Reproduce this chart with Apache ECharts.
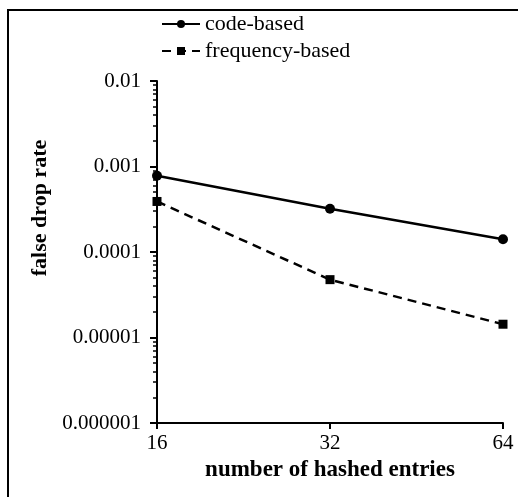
<!DOCTYPE html>
<html>
<head>
<meta charset="utf-8">
<script src="https://cdn.jsdelivr.net/npm/echarts@6/dist/echarts.min.js"></script>
<style>
  html, body { margin: 0; padding: 0; background: #fff; }
  #chart { width: 518px; height: 497px; }
</style>
</head>
<body>
<div id="chart"></div>
<script>
// number of hashed entries
var xValues = [16, 32, 64]
// false drop rate
var codeBased = [0.00078, 0.00032, 0.000141]
var frequencyBased = [0.00039, 0.0000475, 0.0000143]
// y axis decades
var yTicks = [0.000001, 0.00001, 0.0001, 0.001, 0.01]
var yTickLabels = ['0.000001', '0.00001', '0.0001', '0.001', '0.01']

var font = 'Liberation Serif'

// minor ticks 2..9 in every decade
var minorTicks = []
for (var i = 0; i < yTicks.length - 1; i++) {
  for (var k = 2; k <= 9; k++) {
    minorTicks.push(+(yTicks[i] * k).toPrecision(3))
  }
}

function pairs(ys) {
  var out = []
  for (var i = 0; i < xValues.length; i++) {
    out.push([xValues[i], ys[i]])
  }
  return out
}

var chart = echarts.init(document.getElementById('chart'))
chart.setOption({
  animation: false,
  backgroundColor: '#fff',
  grid: { left: 157, right: 15, top: 81, bottom: 74 },
  legend: {
    orient: 'vertical',
    left: 156,
    top: 8,
    itemWidth: 38,
    itemHeight: 10,
    itemGap: 5,
    textStyle: { fontFamily: font, fontSize: 22, color: '#000' },
    data: ['code-based', 'frequency-based']
  },
  xAxis: {
    type: 'log',
    logBase: 2,
    min: 16,
    max: 64,
    name: 'number of hashed entries',
    nameLocation: 'middle',
    nameGap: 34,
    nameTextStyle: { fontFamily: font, fontSize: 23, fontWeight: 'bold', color: '#000' },
    axisLine: { lineStyle: { color: '#000', width: 2 } },
    axisTick: { show: true, inside: false, length: 6, lineStyle: { color: '#000', width: 2 } },
    axisLabel: {
      fontFamily: font, fontSize: 21, color: '#000', margin: 10,
      customValues: xValues
    },
    splitLine: { show: false }
  },
  yAxis: [
    {
      type: 'log',
      logBase: 10,
      min: yTicks[0],
      max: yTicks[yTicks.length - 1],
      axisLine: { show: true, lineStyle: { color: '#000', width: 2 } },
      axisTick: { show: true, length: 7, lineStyle: { color: '#000', width: 2 }, customValues: yTicks },
      axisLabel: {
        fontFamily: font, fontSize: 21, color: '#000', margin: 16,
        customValues: yTicks,
        formatter: function (v) {
          var idx = yTicks.findIndex(function (t) { return Math.abs(t - v) / t < 1e-6 })
          return idx >= 0 ? yTickLabels[idx] : ''
        }
      },
      splitLine: { show: false }
    },
    {
      type: 'log',
      logBase: 10,
      position: 'left',
      min: yTicks[0],
      max: yTicks[yTicks.length - 1],
      axisLine: { show: false },
      axisTick: { show: true, length: 4, lineStyle: { color: '#000', width: 1.5 }, customValues: minorTicks },
      axisLabel: { show: false },
      splitLine: { show: false }
    }
  ],
  graphic: [
    {
      type: 'line',
      shape: { x1: 7, y1: 10, x2: 518, y2: 10 },
      style: { stroke: '#000', lineWidth: 2 }
    },
    {
      type: 'line',
      shape: { x1: 8, y1: 9, x2: 8, y2: 497 },
      style: { stroke: '#000', lineWidth: 2 }
    },
    {
      type: 'text',
      x: 40,
      y: 208,
      rotation: Math.PI / 2,
      style: {
        text: 'false drop rate',
        font: 'bold 22px "Liberation Serif"',
        fill: '#000',
        align: 'center',
        verticalAlign: 'middle'
      }
    }
  ],
  series: [
    {
      name: 'code-based',
      type: 'line',
      data: pairs(codeBased),
      symbol: 'circle',
      symbolSize: 10,
      itemStyle: { color: '#000' },
      lineStyle: { color: '#000', width: 2.5 }
    },
    {
      name: 'frequency-based',
      type: 'line',
      data: pairs(frequencyBased),
      symbol: 'rect',
      symbolSize: 9,
      itemStyle: { color: '#000' },
      lineStyle: { color: '#000', width: 2.5, type: [9, 6] }
    }
  ]
})
</script>
</body>
</html>
